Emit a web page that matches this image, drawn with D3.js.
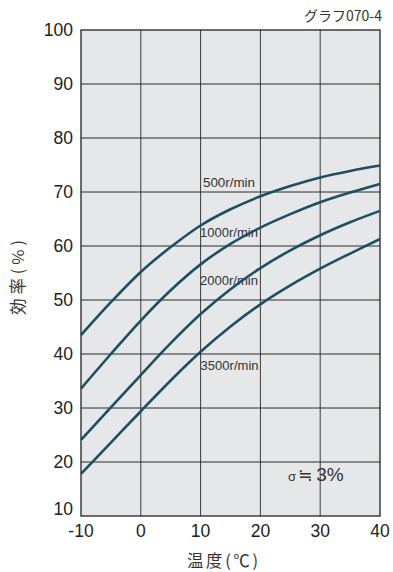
<!DOCTYPE html>
<html>
<head>
<meta charset="utf-8">
<script src="https://cdn.jsdelivr.net/npm/d3@7/dist/d3.min.js"></script>
<style>
  html, body { margin: 0; padding: 0; background: #fff; }
  svg { display: block; font-family: "Liberation Sans", Arial, sans-serif; }
</style>
</head>
<body>
<svg id="chart" width="393" height="572"></svg>
<script>
// Temperature (°C) sample points
const temps = [-10, -5, 0, 5, 10, 15, 20, 25, 30, 35, 40];

// Efficiency (%) per motor speed
const eff500  = [43.5, 49.6, 55.2, 59.8, 63.8, 66.8, 69.2, 71.1, 72.7, 73.9, 74.9];
const eff1000 = [33.6, 40.0, 46.2, 51.8, 56.6, 60.4, 63.4, 65.9, 68.1, 69.9, 71.5];
const eff2000 = [24.1, 30.1, 36.1, 42.0, 47.4, 52.0, 55.9, 59.2, 62.0, 64.4, 66.5];
const eff3500 = [17.8, 23.6, 29.4, 35.1, 40.4, 45.1, 49.2, 52.7, 55.8, 58.6, 61.3];

const seriesNames = ["500r/min", "1000r/min", "2000r/min", "3500r/min"];
const seriesValues = [eff500, eff1000, eff2000, eff3500];
// where each speed label sits (temperature, efficiency at baseline)
const labelAt = [[10.4, 70.9], [9.9, 61.6], [9.9, 52.8], [10.0, 37.0]];

const xTicks = [-10, 0, 10, 20, 30, 40];
const yTicks = [10, 20, 30, 40, 50, 60, 70, 80, 90, 100];

const svg = d3.select("#chart");
const plotL = 81, plotR = 380, plotT = 30, plotB = 516;

const x = d3.scaleLinear().domain([-10, 40]).range([plotL, plotR]);
const y = d3.scaleLinear().domain([10, 100]).range([plotB, plotT]);

// plot background
svg.append("rect")
  .attr("x", plotL).attr("y", plotT)
  .attr("width", plotR - plotL).attr("height", plotB - plotT)
  .attr("fill", "#e6e7e9");

// grid
svg.append("g")
  .selectAll("line")
  .data(xTicks.slice(1, -1))
  .join("line")
  .attr("x1", d => x(d)).attr("x2", d => x(d))
  .attr("y1", plotT).attr("y2", plotB)
  .attr("stroke", "#3a3a3a").attr("stroke-width", 1);

svg.append("g")
  .selectAll("line")
  .data(yTicks.slice(1, -1))
  .join("line")
  .attr("x1", plotL).attr("x2", plotR)
  .attr("y1", d => y(d)).attr("y2", d => y(d))
  .attr("stroke", "#2a2a2a").attr("stroke-width", 1);

// frame
svg.append("rect")
  .attr("x", plotL).attr("y", plotT)
  .attr("width", plotR - plotL).attr("height", plotB - plotT)
  .attr("fill", "none").attr("stroke", "#222").attr("stroke-width", 1.3);

// speed labels (drawn under the curves)
svg.append("g")
  .selectAll("text")
  .data(seriesNames)
  .join("text")
  .attr("x", (d, i) => x(labelAt[i][0]))
  .attr("y", (d, i) => y(labelAt[i][1]))
  .attr("font-size", 13)
  .attr("fill", "#333")
  .attr("textLength", (d) => d.length > 8 ? 58 : 52)
  .attr("lengthAdjust", "spacingAndGlyphs")
  .text(d => d);

// curves
const line = d3.line()
  .x((d, i) => x(temps[i]))
  .y(d => y(d))
  .curve(d3.curveCatmullRom.alpha(0.5));

svg.append("g")
  .selectAll("path")
  .data(seriesValues)
  .join("path")
  .attr("d", line)
  .attr("fill", "none")
  .attr("stroke", "#1d4f62")
  .attr("stroke-width", 2.6);

// y-axis tick labels
svg.append("g")
  .selectAll("text")
  .data(yTicks)
  .join("text")
  .attr("x", 73)
  .attr("y", d => d === 10 ? y(d) - 1 : y(d) + 6)
  .attr("text-anchor", "end")
  .attr("font-size", 17.5)
  .attr("fill", "#222")
  .text(d => d);

// x-axis tick labels
svg.append("g")
  .selectAll("text")
  .data(xTicks)
  .join("text")
  .attr("x", d => x(d))
  .attr("y", 537)
  .attr("text-anchor", "middle")
  .attr("font-size", 17.5)
  .attr("fill", "#222")
  .text(d => d);

// axis titles
svg.append("text")
  .attr("x", 187).attr("y", 567)
  .attr("font-family", "'Noto Sans CJK JP', sans-serif")
  .attr("font-size", 16.5)
  .attr("fill", "#333")
  .attr("textLength", 71)
  .attr("lengthAdjust", "spacing")
  .text("温度(℃)");

svg.append("text")
  .attr("transform", "translate(24,315) rotate(-90)")
  .attr("font-family", "'Noto Sans CJK JP', sans-serif")
  .attr("font-size", 16.5)
  .attr("fill", "#333")
  .attr("textLength", 75)
  .attr("lengthAdjust", "spacing")
  .text("効率(%)");

// figure number
svg.append("text")
  .attr("x", 382).attr("y", 21)
  .attr("text-anchor", "end")
  .attr("font-family", "'Noto Sans CJK JP', sans-serif")
  .attr("font-size", 14)
  .attr("fill", "#333")
  .text("グラフ070-4");

// tolerance note
const note = svg.append("text")
  .attr("x", 288).attr("y", 481)
  .attr("fill", "#333")
  .attr("font-size", 19);
note.append("tspan").attr("font-size", 13).text("σ");
note.append("tspan").attr("dx", 2).attr("font-family", "'DejaVu Sans', sans-serif").attr("font-size", 17).text("≒");
note.append("tspan").attr("dx", 4).text("3%");
</script>
</body>
</html>
